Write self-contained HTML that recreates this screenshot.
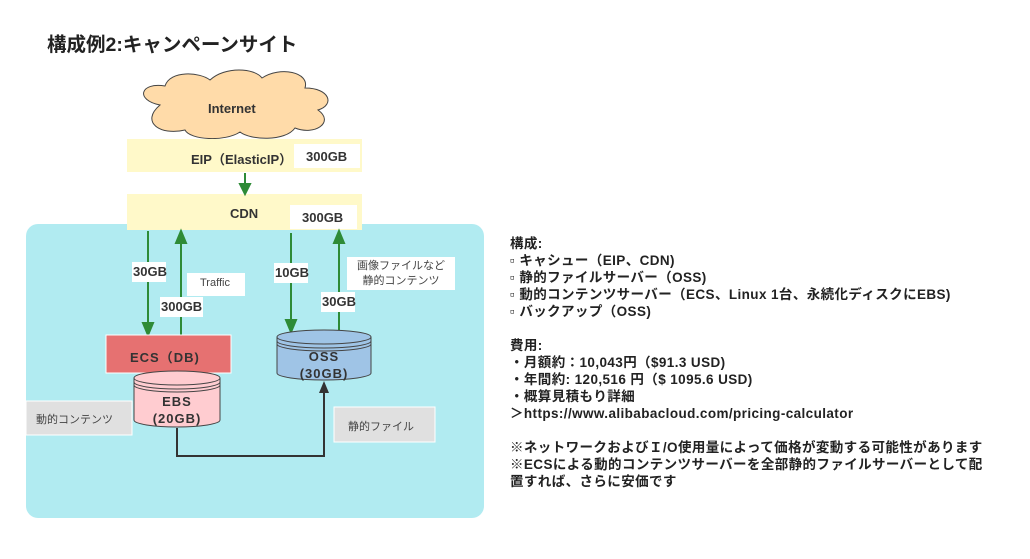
<!DOCTYPE html>
<html><head><meta charset="utf-8"><style>
body{margin:0;width:1030px;height:559px;background:#fff;position:relative;overflow:hidden;font-family:"Liberation Sans","Noto Sans CJK JP",sans-serif;}
.a{position:absolute;}
.t{position:absolute;color:#333;font-weight:bold;}
</style></head><body>
<div class="t" style="left:47px;top:28px;font-size:19.5px;color:#222">構成例2:キャンペーンサイト</div>
<div class="a" style="left:26px;top:224px;width:458px;height:294px;background:#b1ebf1;border-radius:12px"></div>
<svg class="a" style="left:0;top:0" width="1030" height="559">
<path d="M160,105 C135,100 140,82 165,86 C170,70 200,72 210,80 C225,66 255,68 262,78 C280,66 310,72 305,88 C330,88 335,105 318,110 C335,122 315,136 295,128 C285,142 250,140 240,132 C225,142 190,140 185,130 C160,136 140,122 160,105 Z" fill="#ffdba9" stroke="#444" stroke-width="1"/>
<rect x="127" y="139" width="235" height="33" fill="#fff9c9"/>
<rect x="294" y="144" width="66" height="24" fill="#fff"/>
<rect x="127" y="194" width="235" height="36" fill="#fff9c9"/>
<rect x="290" y="205" width="67" height="24" fill="#fff"/>
<g stroke="#2e8b37" stroke-width="2" fill="#2e8b37">
<line x1="245" y1="173" x2="245" y2="185"/><path d="M240,184 L250,184 L245,194Z"/>
<line x1="148" y1="231" x2="148" y2="325"/><path d="M143,323 L153,323 L148,335Z"/>
<line x1="181" y1="335" x2="181" y2="242"/><path d="M176,243 L186,243 L181,231Z"/>
<line x1="291" y1="233" x2="291" y2="322"/><path d="M286,320 L296,320 L291,332Z"/>
<line x1="339" y1="332" x2="339" y2="242"/><path d="M334,243 L344,243 L339,231Z"/>
</g>
<rect x="187" y="273" width="58" height="23" fill="#fff"/>
<rect x="347" y="257" width="108" height="33" fill="#fff"/>
<rect x="132" y="262" width="34" height="20" fill="#fff"/>
<rect x="160" y="297" width="43" height="20" fill="#fff"/>
<rect x="274" y="263" width="34" height="20" fill="#fff"/>
<rect x="321" y="292" width="34" height="20" fill="#fff"/>
<rect x="106" y="335" width="125" height="38" fill="#e67171" stroke="#fff"/>
<path d="M134,378 L134,420 A43,7 0 0 0 220,420 L220,378" fill="#ffccd0" stroke="#444"/>
<ellipse cx="177" cy="378" rx="43" ry="7" fill="#ffccd0" stroke="#444"/>
<path d="M134,382 A43,7 0 0 0 220,382 M134,385 A43,7 0 0 0 220,385" fill="none" stroke="#444"/>
<path d="M277,337 L277,373 A47,7 0 0 0 371,373 L371,337" fill="#9fc4e6" stroke="#444"/>
<ellipse cx="324" cy="337" rx="47" ry="7" fill="#9fc4e6" stroke="#444"/>
<path d="M277,341 A47,7 0 0 0 371,341 M277,344 A47,7 0 0 0 371,344" fill="none" stroke="#444"/>
<rect x="26" y="401" width="106" height="34" fill="#e0e0e0" stroke="#fff"/>
<rect x="334" y="407" width="101" height="35" fill="#e0e0e0" stroke="#fff"/>
<path d="M177,428 L177,456 L324,456 L324,392" fill="none" stroke="#333" stroke-width="2"/>
<path d="M319,393 L329,393 L324,381Z" fill="#333"/>
</svg>
<div class="t" style="left:208px;top:101px;font-size:13px">Internet</div>
<div class="t" style="left:191px;top:149px;font-size:13px">EIP（ElasticIP）</div>
<div class="t" style="left:306px;top:149px;font-size:13px">300GB</div>
<div class="t" style="left:230px;top:206px;font-size:13px">CDN</div>
<div class="t" style="left:302px;top:210px;font-size:13px">300GB</div>
<div class="t" style="left:133px;top:264px;font-size:13px">30GB</div>
<div class="t" style="left:161px;top:299px;font-size:13px">300GB</div>
<div class="t" style="left:275px;top:265px;font-size:13px">10GB</div>
<div class="t" style="left:322px;top:294px;font-size:13px">30GB</div>
<div class="a" style="left:200px;top:277px;font-size:11px;color:#444">Traffic</div>
<div class="a" style="left:347px;top:259px;width:108px;text-align:center;font-size:11px;line-height:15px;color:#444">画像ファイルなど<br>静的コンテンツ</div>
<div class="t" style="left:130px;top:347px;font-size:13px;letter-spacing:1px">ECS（DB)</div>
<div class="t" style="left:134px;top:393px;width:86px;text-align:center;font-size:13px;line-height:17px;letter-spacing:1px">EBS<br>(20GB)</div>
<div class="t" style="left:277px;top:348px;width:94px;text-align:center;font-size:13px;line-height:17px;letter-spacing:1px">OSS<br>(30GB)</div>
<div class="a" style="left:36px;top:411px;font-size:11px;color:#444">動的コンテンツ</div>
<div class="a" style="left:348px;top:418px;font-size:11px;color:#444">静的ファイル</div>
<div class="t" style="left:510px;top:235px;font-size:13.5px;letter-spacing:0.4px;line-height:17px;color:#222">構成:<br>▫ キャシュー（EIP、CDN)<br>▫ 静的ファイルサーバー（OSS)<br>▫ 動的コンテンツサーバー（ECS、Linux 1台、永続化ディスクにEBS)<br>▫ バックアップ（OSS)<br><br>費用:<br>・月額約：10,043円（$91.3 USD)<br>・年間約: 120,516 円（$ 1095.6 USD)<br>・概算見積もり詳細<br>＞https://www.alibabacloud.com/pricing-calculator<br><br>※ネットワークおよびＩ/O使用量によって価格が変動する可能性があります<br>※ECSによる動的コンテンツサーバーを全部静的ファイルサーバーとして配<br>置すれば、さらに安価です</div>
</body></html>
